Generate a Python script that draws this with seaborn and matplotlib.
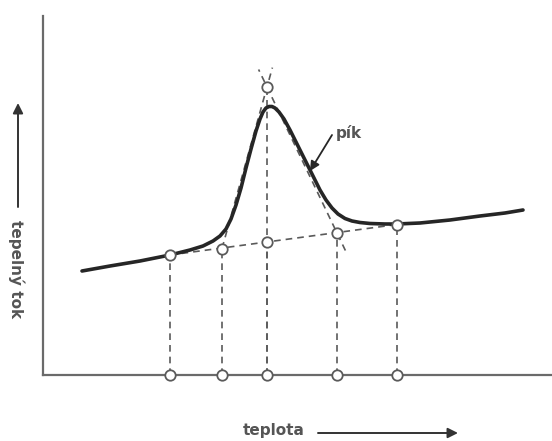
import matplotlib
matplotlib.use("Agg")
import matplotlib.pyplot as plt
import matplotlib.patches as mpatches
import numpy as np
import pandas as pd
import seaborn as sns

# DSC curve (temperature vs. heat flow, arbitrary units)
temp = [39, 67, 97, 127, 147, 160, 170, 177, 183, 188, 193, 198, 203, 208,
        213, 217, 220, 223, 226, 229, 232, 236, 241, 247, 253, 259, 265, 271,
        277, 283, 289, 295, 302, 309, 317, 327, 342, 354, 377, 407, 437, 462,
        480]
heat = [104, 109, 114, 120, 125, 129, 134, 139, 146, 156, 170, 187, 207, 226,
        244, 256, 263, 267, 268.5, 268.5, 267, 263, 256, 245, 233, 221, 209,
        197, 185, 175, 167, 161, 156.5, 154, 152.5, 151.5, 151, 151, 152, 155,
        159, 162, 165]

# characteristic temperatures on the interpolated baseline
t_marks = [127, 179, 224, 294, 354]
q_base = [120, 126.5, 133, 142, 150.5]
# intersection of the two inflection tangents
t_apex, q_apex = 224, 288

label_y = "tepelný tok"
label_x = "teplota"
label_peak = "pík"

sns.set_style("white")
plt.rcParams["font.family"] = ["DejaVu Sans"]

W, H = 552, 441
fig = plt.figure(figsize=(W / 100, H / 100), dpi=100)
ax = fig.add_axes([43 / W, (H - 375) / H, (W - 43) / W, (375 - 16) / H])
ax.set_xlim(0, 509)
ax.set_ylim(0, 359)

axis_col = "#6a6a6a"
dash_col = "#5a5a5a"
text_col = "#555555"

for s in ("top", "right"):
    ax.spines[s].set_visible(False)
for s in ("left", "bottom"):
    ax.spines[s].set_color(axis_col)
    ax.spines[s].set_linewidth(1.6)
ax.set_xticks([])
ax.set_yticks([])

dash = dict(color=dash_col, lw=1.2, ls=(0, (4, 3)), zorder=2)

# interpolated baseline
ax.plot([t_marks[0], t_marks[-1]], [q_base[0], q_base[-1]], **dash)

# inflection tangents, extended past their intersection
for i, ext_lo in ((1, 0.0), (3, 0.12)):
    t0, q0 = t_marks[i], q_base[i]
    dt, dq = t_apex - t0, q_apex - q0
    s = np.array([-ext_lo, 1.12])
    ax.plot(t0 + s * dt, q0 + s * dq, **dash)

# drop lines to the temperature axis
for t, q in zip(t_marks, q_base):
    ax.plot([t, t], [0, q], **dash)
ax.plot([t_apex, t_apex], [0, q_apex], **dash)

# measured curve
df = pd.DataFrame({"teplota": temp, "tok": heat})
sns.lineplot(data=df, x="teplota", y="tok", ax=ax, color="#262626",
             lw=2.6, zorder=3, legend=False, solid_joinstyle="round",
             solid_capstyle="round")
ax.set_xlabel("")
ax.set_ylabel("")

# marker circles
circ = dict(marker="o", ms=7.5, mfc="white", mec=dash_col, mew=1.3,
            ls="none", zorder=5, clip_on=False)
ax.plot(t_marks, q_base, **circ)
ax.plot([t_apex], [q_apex], **circ)
ax.plot(t_marks, [0] * len(t_marks), **circ)

# peak label with arrow
ax.annotate("", xy=(267, 204), xytext=(289, 240),
            arrowprops=dict(arrowstyle="-|>", color="#262626", lw=1.3,
                            mutation_scale=14, shrinkA=0, shrinkB=0), zorder=6)
ax.text(293, 242, label_peak, color=text_col, fontsize=11,
        fontweight="bold", ha="left", va="center")


# axis arrows and labels in figure space
def fx(px):
    return px / W


def fy(py):
    return 1 - py / H


arrow = dict(arrowstyle="-|>", color="#333333", lw=1.4, mutation_scale=15,
             shrinkA=0, shrinkB=0)
fig.add_artist(mpatches.FancyArrowPatch(
    (fx(18), fy(207)), (fx(18), fy(103)), transform=fig.transFigure, **arrow))
fig.text(fx(16), fy(269), label_y, rotation=270, color=text_col,
         fontsize=11, fontweight="bold", ha="center", va="center")

fig.add_artist(mpatches.FancyArrowPatch(
    (fx(318), fy(433)), (fx(458), fy(433)), transform=fig.transFigure, **arrow))
fig.text(fx(274), fy(431), label_x, color=text_col, fontsize=11,
         fontweight="bold", ha="center", va="center")

fig.savefig("out.png", dpi=100)
